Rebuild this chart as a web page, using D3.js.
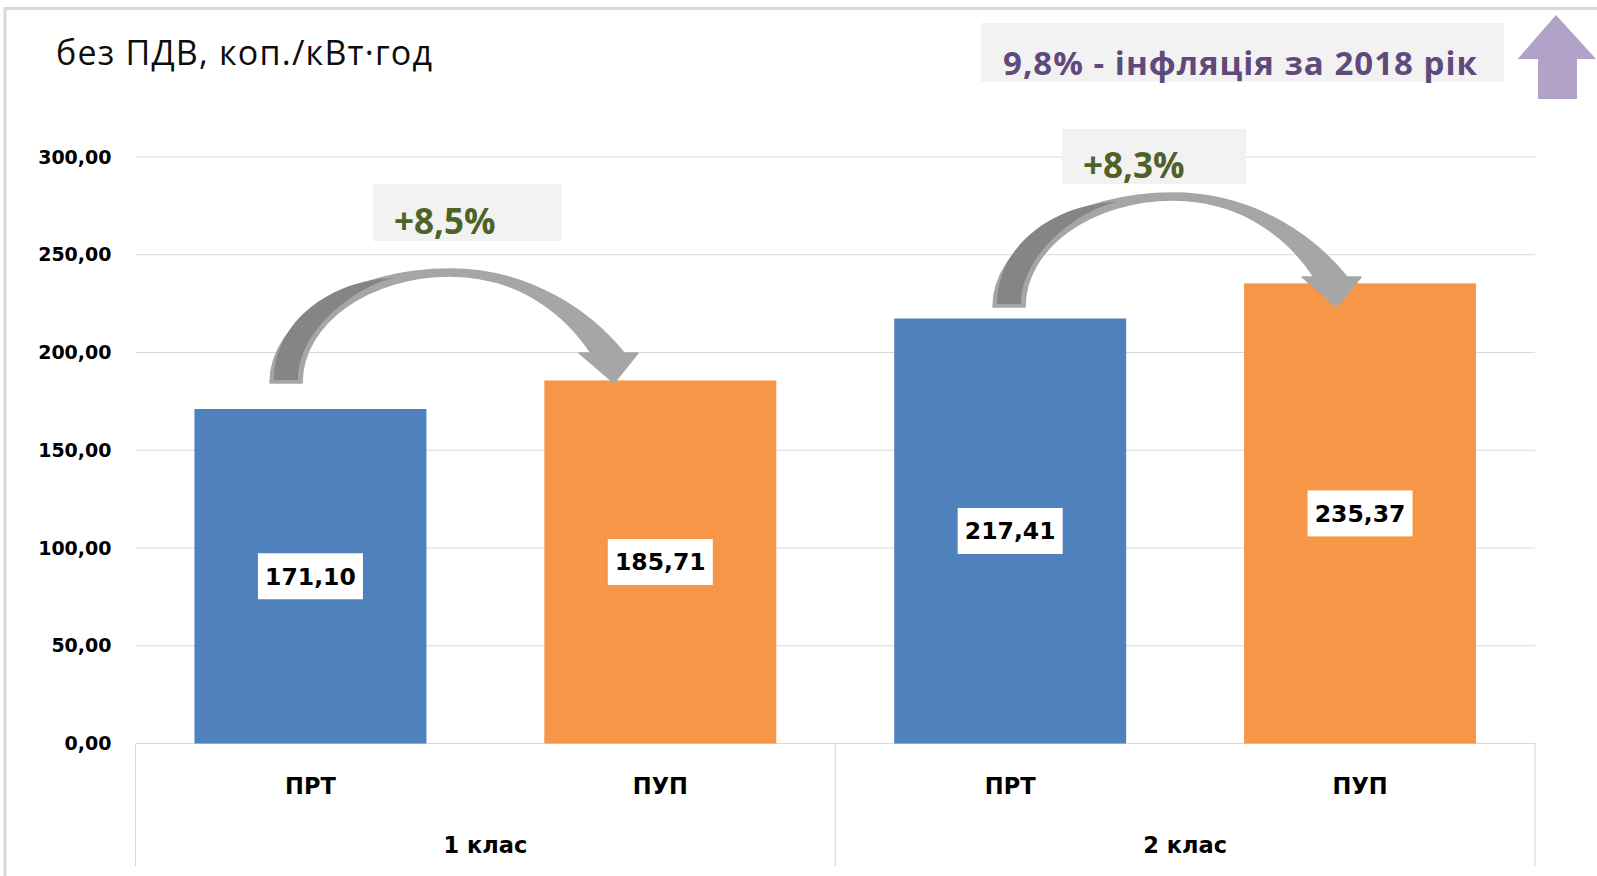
<!DOCTYPE html>
<html>
<head>
<meta charset="utf-8">
<script src="https://cdn.jsdelivr.net/npm/d3@7"></script>
<style>
  body { margin: 0; background: #fff; }
  svg { display: block; }
</style>
</head>
<body>
<div id="chart"></div>
<script>
// Chart data
const groups = ['1 клас', '2 клас'];
const tariffs = ['ПРТ', 'ПУП'];
const values = [171.10, 185.71, 217.41, 235.37];
const yTicks = [0, 50, 100, 150, 200, 250, 300];
const changeLabels = ['+8,5%', '+8,3%'];
const unitTitle = 'без ПДВ, коп./кВт·год';
const inflationNote = '9,8% - інфляція за 2018 рік';

const W = 1597, H = 876;
const margin = { top: 157, right: 62, bottom: 132.5, left: 135.5 };

const colors = { 'ПРТ': '#4f81bd', 'ПУП': '#f79646' };

const rows = [];
groups.forEach((g, gi) => tariffs.forEach((t, ti) => {
    rows.push({ key: g + '|' + t, group: g, tariff: t, value: values[gi * tariffs.length + ti] });
}));

const fmt = d3.formatLocale({ decimal: ',', thousands: ' ', grouping: [3], currency: ['', ''] }).format('.2f');

const svg = d3.select('#chart').append('svg')
    .attr('width', W)
    .attr('height', H);

// outer frame
svg.append('rect')
    .attr('x', 5).attr('y', 8.5)
    .attr('width', W + 10).attr('height', H + 10)
    .attr('fill', 'none')
    .attr('stroke', '#d9d9d9')
    .attr('stroke-width', 3);

const x = d3.scaleBand()
    .domain(rows.map(d => d.key))
    .range([margin.left, W - margin.right])
    .paddingInner(0.337)
    .paddingOuter(0.1685);

const y = d3.scaleLinear()
    .domain([0, 300])
    .range([H - margin.bottom, margin.top]);

// gridlines
svg.append('g')
    .selectAll('line')
    .data(yTicks)
    .enter().append('line')
    .attr('x1', margin.left)
    .attr('x2', W - margin.right)
    .attr('y1', d => y(d))
    .attr('y2', d => y(d))
    .attr('stroke', '#d9d9d9')
    .attr('stroke-width', 1.2);

// y axis labels
const yAxis = svg.append('g')
    .attr('transform', `translate(${margin.left - 24},0)`)
    .call(d3.axisLeft(y).tickValues(yTicks).tickFormat(fmt).tickSize(0).tickPadding(0));
yAxis.select('.domain').remove();
yAxis.selectAll('text')
    .attr('font-family', 'DejaVu Sans')
    .attr('font-weight', 'bold')
    .attr('font-size', 19)
    .attr('fill', '#000');

// category axis: lines and labels
const axisY = y(0);
const axisBottom = 866;
const groupWidth = (W - margin.right - margin.left) / groups.length;
const dividers = d3.range(groups.length + 1).map(i => margin.left + i * groupWidth);

svg.append('g')
    .selectAll('line')
    .data(dividers)
    .enter().append('line')
    .attr('x1', d => d).attr('x2', d => d)
    .attr('y1', axisY).attr('y2', axisBottom)
    .attr('stroke', '#d9d9d9')
    .attr('stroke-width', 1.2);

svg.append('g')
    .selectAll('text')
    .data(rows)
    .enter().append('text')
    .attr('x', d => x(d.key) + x.bandwidth() / 2)
    .attr('y', 786)
    .attr('dy', '0.36em')
    .attr('text-anchor', 'middle')
    .attr('font-family', 'DejaVu Sans')
    .attr('font-weight', 'bold')
    .attr('font-size', 22.5)
    .text(d => d.tariff);

svg.append('g')
    .selectAll('text')
    .data(groups)
    .enter().append('text')
    .attr('x', (d, i) => margin.left + (i + 0.5) * groupWidth)
    .attr('y', 845)
    .attr('dy', '0.36em')
    .attr('text-anchor', 'middle')
    .attr('font-family', 'DejaVu Sans')
    .attr('font-weight', 'bold')
    .attr('font-size', 22.5)
    .text(d => d);

// bars
svg.append('g')
    .selectAll('rect')
    .data(rows)
    .enter().append('rect')
    .attr('x', d => x(d.key))
    .attr('y', d => y(d.value))
    .attr('width', x.bandwidth())
    .attr('height', d => y(0) - y(d.value))
    .attr('fill', d => colors[d.tariff]);

// value labels in white boxes
const labels = svg.append('g')
    .selectAll('g')
    .data(rows)
    .enter().append('g')
    .attr('transform', d => `translate(${x(d.key) + x.bandwidth() / 2},${(y(d.value) + y(0)) / 2})`);

labels.append('rect')
    .attr('x', -52.5).attr('y', -23)
    .attr('width', 105).attr('height', 46)
    .attr('fill', '#fff');

labels.append('text')
    .attr('text-anchor', 'middle')
    .attr('dy', '0.36em')
    .attr('font-family', 'DejaVu Sans')
    .attr('font-weight', 'bold')
    .attr('font-size', 23.5)
    .attr('fill', '#000')
    .text(d => fmt(d.value));

// curved arrows between ПРТ and ПУП (local origin = outer foot of the arrow)
function curvedArrowPath() {
    return 'M0,0 C0,-63 81,-114 180,-114 C265,-114 325,-66 354,-30 ' +
        'L368,-30 L344,0 L309,-30 L321,-30 ' +
        'C300,-62 255,-107 180,-107 C100,-107 32,-60 32,0 Z';
}
function curvedArrowShade() {
    return 'M4,-3 C4,-62 62,-104 125,-105 C95,-101 28,-58 28,-3 Z';
}

const arrowAnchors = [[270, 383], [993, 307]];
const arrows = svg.append('g')
    .selectAll('g')
    .data(arrowAnchors)
    .enter().append('g')
    .attr('transform', d => `translate(${d[0]},${d[1]})`);

arrows.append('path')
    .attr('d', curvedArrowPath())
    .attr('fill', '#a6a6a6')
    .attr('stroke', '#a6a6a6')
    .attr('stroke-width', 1.5)
    .attr('stroke-linejoin', 'round');

arrows.append('path')
    .attr('d', curvedArrowShade())
    .attr('fill', '#858585');

// percentage change boxes
const changeBoxes = [
    { x: 373, y: 184, w: 189, h: 57, tx: 394, ty: 234 },
    { x: 1062, y: 129, w: 184, h: 55, tx: 1083, ty: 178 }
];
const changes = svg.append('g')
    .selectAll('g')
    .data(changeLabels)
    .enter().append('g');

changes.append('rect')
    .attr('x', (d, i) => changeBoxes[i].x)
    .attr('y', (d, i) => changeBoxes[i].y)
    .attr('width', (d, i) => changeBoxes[i].w)
    .attr('height', (d, i) => changeBoxes[i].h)
    .attr('fill', '#f2f2f2');

changes.append('text')
    .attr('x', (d, i) => changeBoxes[i].tx)
    .attr('y', (d, i) => changeBoxes[i].ty)
    .attr('font-family', 'Open Sans')
    .attr('font-weight', 'bold')
    .attr('font-size', 35)
    .attr('fill', '#4f6228')
    .text(d => d);

// unit title
svg.append('text')
    .attr('x', 56)
    .attr('y', 65)
    .attr('font-family', 'Open Sans')
    .attr('font-size', 34)
    .attr('textLength', 376)
    .attr('lengthAdjust', 'spacing')
    .attr('fill', '#0d0d0d')
    .text(unitTitle);

// inflation note
svg.append('rect')
    .attr('x', 981).attr('y', 23)
    .attr('width', 523).attr('height', 58.5)
    .attr('fill', '#f2f2f2');

svg.append('text')
    .attr('x', 1003)
    .attr('y', 75)
    .attr('font-family', 'Open Sans')
    .attr('font-weight', 'bold')
    .attr('font-size', 33)
    .attr('textLength', 474)
    .attr('lengthAdjust', 'spacing')
    .attr('fill', '#604a7b')
    .text(inflationNote);

// purple up arrow
svg.append('path')
    .attr('d', 'M1556,15 L1596,59 L1577,59 L1577,99 L1538,99 L1538,59 L1517.6,59 Z')
    .attr('fill', '#b3a2c7');
</script>
</body>
</html>
